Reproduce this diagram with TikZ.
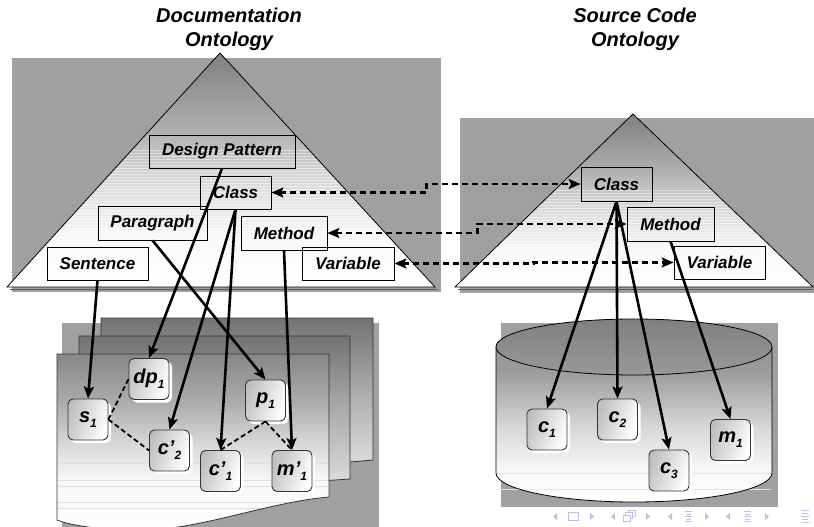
\documentclass[tikz,border=0pt]{standalone}
\usepackage{fontspec}
\setmainfont{Liberation Sans}
\usetikzlibrary{arrows.meta,shadows}
\definecolor{bgg}{RGB}{160,160,160}
\definecolor{navc}{RGB}{192,192,228}
\pgfdeclareverticalshading{tri}{100bp}{color(0bp)=(white); color(25bp)=(white); color(36bp)=(black!3); color(48bp)=(black!15); color(60bp)=(black!33); color(75bp)=(black!50); color(100bp)=(black!50)}
\pgfdeclareverticalshading{pgone}{100bp}{color(0bp)=(white); color(25bp)=(white); color(40bp)=(black!3); color(50bp)=(black!15); color(62bp)=(black!33); color(75bp)=(black!47); color(100bp)=(black!47)}
\pgfdeclareverticalshading{pgback}{100bp}{color(0bp)=(black!12); color(25bp)=(black!12); color(50bp)=(black!32); color(75bp)=(black!55); color(100bp)=(black!55)}
\pgfdeclareverticalshading{cyl}{100bp}{color(0bp)=(white); color(25bp)=(white); color(34bp)=(black!3); color(45bp)=(black!15); color(60bp)=(black!38); color(75bp)=(black!48); color(100bp)=(black!48)}
\newcommand{\nlab}[2]{#1\raisebox{-5pt}{\fontsize{12}{13}\selectfont #2}}
\begin{document}
\begin{tikzpicture}[x=1pt,y=-1pt,
  ttl/.style={align=center, inner sep=0pt, font=\fontsize{20}{24}\selectfont\bfseries\itshape},
  obox/.style={draw, line width=0.8pt, inner sep=0pt, font=\fontsize{17}{19}\selectfont\bfseries\itshape},
  inst/.style={draw=black!80, line width=0.9pt, rounded corners=5pt, minimum width=40pt, minimum height=41pt, inner sep=0pt, left color=black!25, middle color=black!4, right color=white, shading angle=70, drop shadow={fill=white, opacity=1, shadow xshift=3pt, shadow yshift=-3pt}, font=\fontsize{20}{22}\selectfont\bfseries\itshape},
  arr/.style={line width=2.6pt, -{Stealth[length=12pt,width=10pt,inset=2.5pt]}},
  link/.style={line width=2.6pt, dash pattern=on 6pt off 4pt, {Stealth[length=12pt,width=10pt,inset=2.5pt]}-{Stealth[length=12pt,width=10pt,inset=2.5pt]}},
  rel/.style={line width=1.8pt, dash pattern=on 5pt off 3pt},
  stripe/.style={white, opacity=0.45, line width=0.8pt},
  navi/.style={navc, line width=0.8pt}]
\useasboundingbox (0,0) rectangle (814,527);
\fill[white] (0,0) rectangle (814,527);

% ---------- titles ----------
\node[ttl] (tdoc) at (229,29) {Documentation\\Ontology};
\node[ttl] (tsrc) at (635,29) {Source Code\\Ontology};

% ---------- left ontology ----------
\fill[bgg] (12,58) rectangle (441,292);
\shade[shading=tri] (220,53) -- (7,287) -- (435,287) -- cycle;
\begin{scope}
  \clip (220,53) -- (7,287) -- (435,287) -- cycle;
  \foreach \y in {150,153,...,286} \draw[stripe] (0,\y) -- (441,\y);
\end{scope}
\draw[black!65, line width=1.6pt] (10,289.5) -- (438,289.5);
\draw[line width=0.8pt] (220,53) -- (7,287) -- (435,287) -- cycle;

% ---------- right ontology ----------
\fill[bgg] (460,118) rectangle (814,293);
\shade[shading=tri] (633,114) -- (455,287) -- (813,287) -- cycle;
\begin{scope}
  \clip (633,114) -- (455,287) -- (813,287) -- cycle;
  \foreach \y in {190,193,...,286} \draw[stripe] (450,\y) -- (814,\y);
\end{scope}
\draw[black!65, line width=1.6pt] (458,289.5) -- (813,289.5);
\draw[line width=0.8pt] (633,114) -- (455,287) -- (813,287) -- cycle;

% ---------- ontology boxes ----------
\node[obox, minimum width=146pt, minimum height=33pt] (dpL) at (222,151.5) {Design Pattern};
\node[obox, minimum width=71pt, minimum height=33pt] (clL) at (235.5,192.5) {Class};
\node[obox, minimum width=109pt, minimum height=34pt] (paL) at (152.5,223) {Paragraph};
\node[obox, minimum width=92pt, minimum height=33pt] (vaL) at (348,263.5) {Variable};
\node[obox, minimum width=86pt, minimum height=34pt] (meL) at (284,233) {Method};
\node[obox, minimum width=101pt, minimum height=33pt] (seL) at (97.5,263.5) {Sentence};

\node[obox, minimum width=71pt, minimum height=34pt] (clR) at (616.5,184) {Class};
\node[obox, minimum width=87pt, minimum height=34pt] (meR) at (670.5,224) {Method};
\node[obox, minimum width=91pt, minimum height=33pt] (vaR) at (719.5,262.5) {Variable};

% ---------- documents ----------
\fill[bgg] (62,323) rectangle (379,527);
\shade[shading=pgback, draw=black!80, line width=0.8pt] (101,318) -- (373,318) -- (373,460) -- (350,462) -- (101,470) -- cycle;
\shade[shading=pgback, draw=black!80, line width=0.8pt] (79,336) -- (350,336) -- (350,479) -- (320,481) -- (79,490) -- cycle;
\shade[shading=pgone] (57,354) -- (329,354) -- (329,497) .. controls (260,503) and (190,535) .. (120,530) .. controls (90,528) and (70,525) .. (57,520) -- cycle;
\begin{scope}
  \clip (57,354) -- (329,354) -- (329,497) .. controls (260,503) and (190,535) .. (120,530) .. controls (90,528) and (70,525) .. (57,520) -- cycle;
  \foreach \y in {463,480,486,502,508} \draw[black!12, line width=0.6pt] (57,\y) -- (329,\y);
\end{scope}
\draw[black!80, line width=0.8pt] (57,354) -- (329,354) -- (329,497) .. controls (260,503) and (190,535) .. (120,530) .. controls (90,528) and (70,525) .. (57,520) -- cycle;

% ---------- database cylinder ----------
\fill[bgg] (501,323) rectangle (778,507);
\shade[shading=cyl] (496,347) -- (496,473) .. controls (496,489) and (558,502) .. (634,502) .. controls (710,502) and (772,489) .. (772,473) -- (772,347) .. controls (772,331.5) and (710,319) .. (634,319) .. controls (558,319) and (496,331.5) .. (496,347) -- cycle;
\foreach \y in {473,489} \draw[black!10, line width=0.6pt] (497,\y) -- (771,\y);
\draw[line width=0.8pt] (496,347) -- (496,473) .. controls (496,489) and (558,502) .. (634,502) .. controls (710,502) and (772,489) .. (772,473) -- (772,347);
\shade[top color=black!50, bottom color=black!40, draw=black, line width=0.8pt] (634,347) ellipse [x radius=138, y radius=28];

% ---------- instance nodes ----------
\node[inst] (s1) at (88,419.5) {\nlab{s}{1}};
\node[inst] (dp1) at (149,379) {\nlab{dp}{1}};
\node[inst] (cpb) at (169.5,450.5) {\nlab{c’}{2}};
\node[inst] (cpa) at (220.5,471) {\nlab{c’}{1}};
\node[inst] (p1) at (265.5,400.5) {\nlab{p}{1}};
\node[inst] (mp1) at (292,471) {\nlab{m’}{1}};

\node[inst] (c1) at (547,429.5) {\nlab{c}{1}};
\node[inst] (c2) at (617.5,419.5) {\nlab{c}{2}};
\node[inst] (c3) at (669,470.5) {\nlab{c}{3}};
\node[inst] (m1) at (730.5,440) {\nlab{m}{1}};

% ---------- relations inside document ----------
\draw[rel] (s1.east) -- (dp1.west);
\draw[rel] (s1.east) -- (cpb.west);
\draw[rel] (p1.south) -- (cpa.north);
\draw[rel] (p1.south) -- (mp1.north);

% ---------- instance arrows ----------
\draw[arr] (seL.south) -- (s1.north);
\draw[arr] (dpL.south) -- (dp1.north);
\draw[arr] (clL.south) -- (cpb.north);
\draw[arr] (clL.south) -- (cpa.north);
\draw[arr] (paL.south) -- (p1.north);
\draw[arr] (meL.south) -- (mp1.north);
\draw[arr] (clR.south) -- (c1.north);
\draw[arr] (clR.south) -- (c2.north);
\draw[arr] (clR.south) -- (c3.north);
\draw[arr] (meR.south) -- (m1.north);

% ---------- ontology mapping links ----------
\draw[link] (clL.east) -- ++(155,0) |- (clR.west);
\draw[link] (meL.east) -- ++(150,0) |- (meR.west);
\draw[link] (vaL.east) -- ++(139,0) |- (vaR.west);

% ---------- navigation symbols ----------
\foreach \x in {555,613,670,728} \fill[navc] (\x+2,513) -- (\x-2,516.5) -- (\x+2,520) -- cycle;
\foreach \x in {592,648,707,767} \fill[navc] (\x-2,513) -- (\x+2,516.5) -- (\x-2,520) -- cycle;
\draw[navi] (568,512.5) rectangle (578,520.5);
\draw[navi, fill=white] (628,510) rectangle (635,516);
\draw[navi, fill=white] (625.5,512.5) rectangle (632.5,518.5);
\draw[navi, fill=white] (623,515) rectangle (630,521);
\foreach \x in {688.5,747.5} {
  \draw[navi] (\x-3.5,511.5) -- (\x+3.5,511.5);
  \draw[navi] (\x-2.5,514) -- (\x+2.5,514);
  \draw[navi] (\x-3.5,516.5) -- (\x+3.5,516.5);
  \draw[navi] (\x-2.5,519) -- (\x+2.5,519);
  \draw[navi] (\x-3.5,521.5) -- (\x+3.5,521.5);
}
\draw[navi] (801,510) -- (809,510);
\draw[navi] (802,513) -- (808,513);
\draw[navi] (801,516) -- (809,516);
\draw[navi] (802,519) -- (808,519);
\draw[navi] (801,522) -- (809,522);
\end{tikzpicture}
\end{document}
